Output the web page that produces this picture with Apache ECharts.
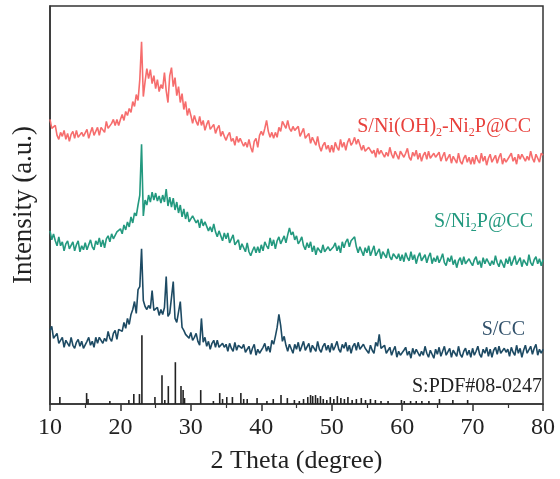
<!DOCTYPE html>
<html>
<head>
<meta charset="utf-8">
<script src="https://cdn.jsdelivr.net/npm/echarts@6/dist/echarts.min.js"></script>
<style>html,body{margin:0;padding:0;background:#fff}#c{width:560px;height:479px}</style>
</head>
<body>
<div id="c"></div>
<script>
// 2 Theta sampling positions (degree)
const twoTheta = [
10,10.25,10.5,10.75,11,11.25,11.5,11.75,12,12.25,12.5,12.75,13,13.25,13.5,13.75,14,14.25,14.5,14.75,
15,15.25,15.5,15.75,16,16.25,16.5,16.75,17,17.25,17.5,17.75,18,18.25,18.5,18.75,19,19.25,19.5,19.75,
20,20.25,20.5,20.75,21,21.25,21.5,21.75,22,22.25,22.5,22.75,23,23.25,23.5,23.75,24,24.25,24.5,24.75,
25,25.25,25.5,25.75,26,26.25,26.5,26.75,27,27.25,27.5,27.75,28,28.25,28.5,28.75,29,29.25,29.5,29.75,
30,30.25,30.5,30.75,31,31.25,31.5,31.75,32,32.25,32.5,32.75,33,33.25,33.5,33.75,34,34.25,34.5,34.75,
35,35.25,35.5,35.75,36,36.25,36.5,36.75,37,37.25,37.5,37.75,38,38.25,38.5,38.75,39,39.25,39.5,39.75,
40,40.25,40.5,40.75,41,41.25,41.5,41.75,42,42.25,42.5,42.75,43,43.25,43.5,43.75,44,44.25,44.5,44.75,
45,45.25,45.5,45.75,46,46.25,46.5,46.75,47,47.25,47.5,47.75,48,48.25,48.5,48.75,49,49.25,49.5,49.75,
50,50.25,50.5,50.75,51,51.25,51.5,51.75,52,52.25,52.5,52.75,53,53.25,53.5,53.75,54,54.25,54.5,54.75,
55,55.25,55.5,55.75,56,56.25,56.5,56.75,57,57.25,57.5,57.75,58,58.25,58.5,58.75,59,59.25,59.5,59.75,
60,60.25,60.5,60.75,61,61.25,61.5,61.75,62,62.25,62.5,62.75,63,63.25,63.5,63.75,64,64.25,64.5,64.75,
65,65.25,65.5,65.75,66,66.25,66.5,66.75,67,67.25,67.5,67.75,68,68.25,68.5,68.75,69,69.25,69.5,69.75,
70,70.25,70.5,70.75,71,71.25,71.5,71.75,72,72.25,72.5,72.75,73,73.25,73.5,73.75,74,74.25,74.5,74.75,
75,75.25,75.5,75.75,76,76.25,76.5,76.75,77,77.25,77.5,77.75,78,78.25,78.5,78.75,79,79.25,79.5,79.75,
80
];
// S/Ni(OH)2-Ni2P@CC (offset intensity, a.u.)
const niohNi2pCC = [
286,277,278,280,270,266,273,269,275,266,272,264,271,274,267,275,268,266,273,269,
268,276,267,273,278,270,272,278,270,278,280,273,284,277,275,282,286,280,286,280,
286,291,285,294,290,297,293,304,299,311,305,326,364,309,324,337,327,336,322,330,
317,326,314,321,317,333,315,303,330,338,319,328,310,319,303,312,296,304,290,297,
290,282,290,284,280,289,280,285,275,281,285,276,277,281,272,277,280,269,274,269,
265,270,273,264,267,260,269,263,267,268,259,263,258,266,258,253,264,267,258,270,
274,270,277,285,274,268,273,267,273,268,278,274,284,286,277,285,277,274,279,275,
273,279,269,273,277,267,268,272,262,268,268,260,269,259,254,260,263,256,260,253,
260,253,263,258,255,266,258,263,255,263,267,260,263,268,261,266,268,255,260,254,
252,258,260,252,255,248,257,251,255,257,248,253,249,258,251,247,254,256,246,254,
255,248,252,257,248,245,253,249,255,246,252,244,250,253,246,254,247,245,252,248,
246,253,244,249,253,244,246,251,242,249,249,242,252,244,241,247,250,243,248,241,
248,241,250,245,242,252,244,249,240,247,251,243,245,250,242,248,252,241,247,243,
242,249,252,244,248,241,251,246,251,253,244,249,245,254,247,243,251,253,243,252,
250
];
// S/Ni2P@CC
const ni2pCC = [
174,165,171,164,159,168,159,163,154,161,164,156,158,163,154,160,164,153,159,155,
162,155,160,165,158,155,164,160,167,158,165,157,166,169,163,171,166,165,173,171,
176,171,180,175,183,178,188,182,192,189,200,210,261,189,205,200,210,203,213,205,
212,204,209,202,210,203,216,199,208,198,207,195,203,192,200,188,196,186,193,183,
184,189,191,182,185,177,186,179,183,184,174,178,173,181,173,168,174,175,164,172,
166,172,162,166,170,160,161,165,155,161,161,153,162,153,149,154,158,152,158,152,
160,154,163,159,156,167,159,165,156,164,168,161,163,169,162,170,177,170,173,165,
169,161,164,168,159,155,162,157,163,153,159,150,157,159,152,160,153,151,158,154,
152,158,162,154,159,152,163,157,163,166,158,164,162,168,158,152,158,159,149,157,
152,159,149,154,159,149,151,156,146,153,154,147,156,148,145,151,153,146,151,144,
150,143,152,147,144,153,145,150,141,148,152,144,145,150,142,148,152,141,147,143,
149,142,146,151,142,139,147,143,149,140,145,137,144,147,140,148,141,139,146,142,
139,145,148,140,144,137,147,141,146,148,139,144,140,149,142,138,145,147,137,146,
141,148,139,144,149,140,142,147,138,145,146,139,150,142,139,145,148,141,146,139,
145
];
// S/CC
const sCC = [
74,78,66,68,71,61,62,67,57,64,65,58,67,59,56,62,65,58,63,56,
57,63,67,59,63,57,67,61,67,69,61,66,63,73,66,63,71,74,65,75,
77,73,82,76,86,80,90,95,103,91,115,118,156,104,98,95,99,96,114,94,
93,97,89,95,90,97,128,88,91,89,123,86,82,80,103,77,74,70,72,66,
72,64,67,71,63,59,86,62,67,58,63,55,61,64,57,64,57,55,61,57,
60,53,61,56,53,62,54,59,60,56,60,52,54,58,50,56,60,49,55,51,
51,57,61,53,58,52,64,60,68,77,90,79,63,68,59,53,60,61,51,60,
55,62,53,58,63,54,56,61,52,59,60,53,63,55,52,58,61,54,59,52,
61,54,58,63,55,52,60,56,62,53,59,51,58,61,54,62,55,53,60,56,
58,51,59,54,51,62,58,70,56,56,59,51,52,57,49,54,58,47,53,49,
48,54,57,49,53,46,56,50,55,57,48,53,49,58,51,47,54,56,46,55,
50,57,48,53,58,49,51,56,47,54,55,48,58,50,47,53,56,49,54,47,
56,49,53,58,50,47,55,51,57,48,55,47,54,57,50,58,51,49,56,52,
55,48,57,52,49,59,51,56,47,54,59,51,53,58,50,56,60,49,55,51,
55
];
// Reference pattern S:PDF#08-0247 (positions, relative stick heights)
const refPos = [11.4,15.2,15.4,18.5,21.2,21.9,22.7,23.05,24.9,25.9,26.3,26.8,27.8,28.6,28.9,29.1,31.4,33.2,34.1,34.5,35.1,35.9,37.1,37.5,38.0,39.4,40.8,41.7,42.8,43.7,44.7,45.4,46.0,46.6,47.0,47.3,47.7,48.0,48.4,48.8,49.3,49.8,50.3,50.8,51.3,51.8,52.3,52.9,53.5,54.2,54.8,55.5,56.2,57.0,58.0,59.9,60.3,61.2,62.0,62.8,63.8,65.3,67.2,69.3];
const refHeight = [7,11,5,3,4,10,10,69,7,29,4,18,42,18,14,6,14,3,11,5,7,7,11,5,5,6,3,5,9,6,4,3,5,7,9,8,9,6,8,5,4,7,5,8,6,5,7,4,5,6,4,5,4,3,3,4,3,3,3,3,3,5,4,4];

const labels = {
  red: 'S/Ni(OH){s|2}-Ni{s|2}P@CC',
  green: 'S/Ni{s|2}P@CC',
  navy: 'S/CC',
  ref: 'S:PDF#08-0247'
};
const xName = '2 Theta (degree)';
const yName = 'Intensity (a.u.)';

const FONT = '"Liberation Serif","Times New Roman",serif';
const pair = (ys) => twoTheta.map((x, i) => [x, ys[i]]);
function richLabel(color){
  return {
    n: {fontFamily: FONT, fontSize: 20, color: color, lineHeight: 24},
    s: {fontFamily: FONT, fontSize: 12, color: color, lineHeight: 12, verticalAlign: 'bottom'}
  };
}
function labelText(text, x, y, color){
  const t = text.replace(/([^{}|]+)(?![^{]*\})/g, '{n|$1}');
  return {
    type: 'text', x: x, y: y, z: 100,
    style: {text: t, rich: richLabel(color), align: 'right', verticalAlign: 'middle',
      fontFamily: FONT, fontSize: 20, fill: color}
  };
}

const chart = echarts.init(document.getElementById('c'), null, {renderer: 'canvas'});
chart.setOption({
  animation: false,
  backgroundColor: '#fff',
  grid: {left: 50, top: 6, width: 493, height: 400, show: true, borderColor: '#333', borderWidth: 1.5},
  xAxis: {
    type: 'value', min: 10, max: 80, interval: 10,
    axisLine: {lineStyle: {color: '#333', width: 1.5}},
    axisTick: {inside: false, length: 7, lineStyle: {color: '#333', width: 1.5}},
    minorTick: {show: true, splitNumber: 2, length: 4, lineStyle: {color: '#333', width: 1.2}},
    splitLine: {show: false},
    axisLabel: {fontFamily: FONT, fontSize: 24, color: '#222', margin: 12},
    name: xName, nameLocation: 'middle', nameGap: 44,
    nameTextStyle: {fontFamily: FONT, fontSize: 26, color: '#222'}
  },
  yAxis: {
    type: 'value', min: 0, max: 400,
    axisLine: {show: true, lineStyle: {color: '#333', width: 1.5}},
    axisTick: {show: false}, axisLabel: {show: false}, splitLine: {show: false},
    name: yName, nameLocation: 'middle', nameGap: 13,
    nameTextStyle: {fontFamily: FONT, fontSize: 27, color: '#222'}
  },
  series: [
    {type: 'bar', data: refPos.map((x, i) => [x, refHeight[i]]), barWidth: 1.6,
      itemStyle: {color: '#222'}, z: 1},
    {type: 'line', data: pair(niohNi2pCC), symbol: 'none', lineStyle: {color: '#f66d6d', width: 1.6}, z: 2},
    {type: 'line', data: pair(ni2pCC), symbol: 'none', lineStyle: {color: '#23997f', width: 1.6}, z: 3},
    {type: 'line', data: pair(sCC), symbol: 'none', lineStyle: {color: '#1d4a63', width: 1.6}, z: 4}
  ],
  graphic: [
    labelText(labels.red, 531, 127, '#e8413c'),
    labelText(labels.green, 533, 222, '#23997f'),
    labelText(labels.navy, 525, 330, '#30506a'),
    labelText(labels.ref, 542, 387, '#222')
  ]
});
</script>
</body>
</html>
